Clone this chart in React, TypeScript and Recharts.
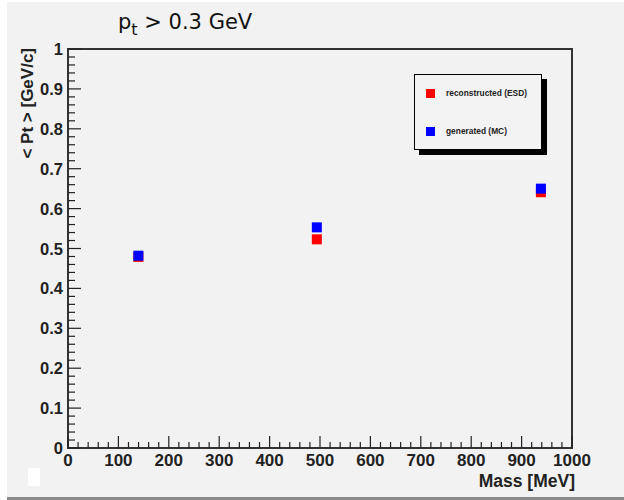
import React from 'react'
import { ScatterChart, Scatter, XAxis, YAxis, ReferenceArea } from 'recharts'

// particle masses [MeV] and mean pt [GeV/c] for pi, K, p
const masses = [139.6, 493.7, 938.3]
const reconstructedPt = [0.479, 0.523, 0.641]
const generatedPt = [0.482, 0.553, 0.65]

const xMajorTicks = [0, 100, 200, 300, 400, 500, 600, 700, 800, 900, 1000]
const yMajorTicks = [0, 0.1, 0.2, 0.3, 0.4, 0.5, 0.6, 0.7, 0.8, 0.9, 1]

const seriesNames = ['reconstructed (ESD)', 'generated (MC)']
const seriesColors = ['#ff0000', '#0000ff']

// 5 divisions between each pair of major ticks
const subdivide = (major: number[]) => {
  const out: number[] = []
  for (let i = 0; i < major.length - 1; i++) {
    const step = (major[i + 1] - major[i]) / 5
    for (let k = 0; k < 5; k++) out.push(+(major[i] + k * step).toFixed(4))
  }
  out.push(major[major.length - 1])
  return out
}

const xTicks = subdivide(xMajorTicks)
const yTicks = subdivide(yMajorTicks)

const recoData = masses.map((m, i) => ({ mass: m, pt: reconstructedPt[i] }))
const genData = masses.map((m, i) => ({ mass: m, pt: generatedPt[i] }))

const FONT = '"Liberation Sans", Arial, sans-serif'

const XTick = ({ x, y, payload }: any) => {
  const v = payload.value
  const major = xMajorTicks.some((t) => Math.abs(t - v) < 1e-6)
  return (
    <g>
      <line x1={x} x2={x} y1={y} y2={y - (major ? 12 : 6)} stroke="#222" strokeWidth={1.2} />
      {major && (
        <text x={x} y={y + 18} textAnchor="middle" fontFamily={FONT} fontWeight="bold" fontSize={17} fill="#222">
          {v}
        </text>
      )}
    </g>
  )
}

const YTick = ({ x, y, payload }: any) => {
  const v = payload.value
  const major = yMajorTicks.some((t) => Math.abs(t - v) < 1e-6)
  const label = v === 0 || v === 1 ? String(v) : v.toFixed(1)
  return (
    <g>
      <line x1={x} x2={x + (major ? 13 : 7)} y1={y} y2={y} stroke="#222" strokeWidth={1.2} />
      {major && (
        <text x={x - 5} y={y + 6} textAnchor="end" fontFamily={FONT} fontWeight="bold" fontSize={16.5} fill="#222">
          {label}
        </text>
      )}
    </g>
  )
}

const Square = ({ cx, cy, fill }: any) => (
  <rect x={cx - 5} y={cy - 5} width={10} height={10} fill={fill} />
)

const LegendBox = () => (
  <div
    style={{
      position: 'absolute',
      left: 407,
      top: 72,
      width: 126,
      height: 74,
      border: '1px solid #000',
      boxShadow: '5px 5px 0 #000',
      background: '#f3f3f3',
      fontFamily: FONT,
      fontWeight: 'bold',
      fontSize: 8.4,
      color: '#222',
    }}
  >
    {seriesNames.map((name, i) => (
      <div key={name} style={{ position: 'absolute', left: 11, top: 13 + i * 38, display: 'flex', alignItems: 'center' }}>
        <span style={{ width: 9, height: 9, background: seriesColors[i], display: 'inline-block' }} />
        <span style={{ marginLeft: 11 }}>{name}</span>
      </div>
    ))}
  </div>
)

export default function App() {
  return (
    <div
      style={{
        position: 'absolute',
        left: 7,
        top: 2,
        width: 617,
        height: 495,
        background: '#f2f2f2',
        borderBottom: '3px solid #8a8a8a',
      }}
    >
      <ScatterChart width={617} height={495} margin={{ top: 47, right: 52, bottom: 0, left: 0 }}>
        <XAxis
          type="number"
          dataKey="mass"
          domain={[0, 1000]}
          ticks={xTicks}
          interval={0}
          axisLine={false}
          tickLine={false}
          tickSize={0}
          tickMargin={0}
          tick={<XTick />}
          height={49}
        />
        <YAxis
          type="number"
          dataKey="pt"
          domain={[0, 1]}
          ticks={yTicks}
          interval={0}
          axisLine={false}
          tickLine={false}
          tickSize={0}
          tickMargin={0}
          tick={<YTick />}
          width={61}
        />
        <ReferenceArea x1={0} x2={1000} y1={0} y2={1} fill="none" stroke="#333" strokeWidth={2} ifOverflow="visible" />
        <Scatter name={seriesNames[0]} data={recoData} fill={seriesColors[0]} shape={<Square />} isAnimationActive={false} />
        <Scatter name={seriesNames[1]} data={genData} fill={seriesColors[1]} shape={<Square />} isAnimationActive={false} />
      </ScatterChart>

      <LegendBox />

      <svg width={617} height={495} style={{ position: 'absolute', left: 0, top: 0, pointerEvents: 'none' }}>
        <text x={111} y={27} fontFamily='"DejaVu Sans", sans-serif' fontSize={21} fill="#111">
          p<tspan dy={6} fontSize={16}>t</tspan>
          <tspan dy={-6}> &gt; 0.3 GeV</tspan>
        </text>
        <text
          x={26}
          y={46}
          transform="rotate(-90, 26, 46)"
          textAnchor="end"
          fontFamily={FONT}
          fontWeight="bold"
          fontSize={17}
          fill="#222"
        >
          {'< Pt > [GeV/c]'}
        </text>
        <text x={568} y={485} textAnchor="end" fontFamily={FONT} fontWeight="bold" fontSize={17.5} fill="#222">
          Mass [MeV]
        </text>
      </svg>
      <div style={{ position: 'absolute', left: 21, top: 466, width: 12, height: 18, background: '#fff' }} />
    </div>
  )
}
